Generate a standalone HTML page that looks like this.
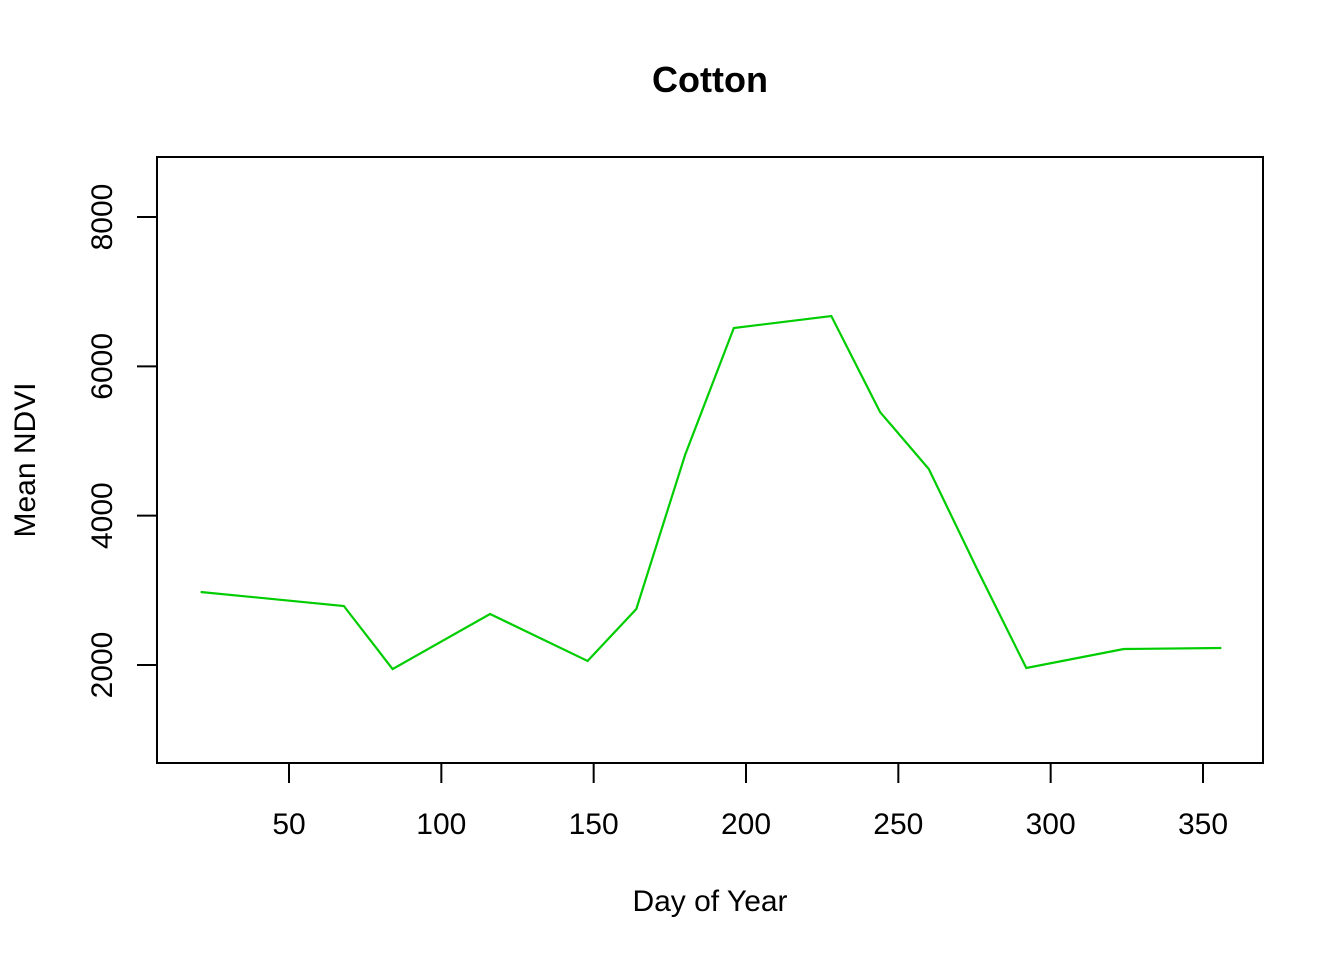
<!DOCTYPE html>
<html><head><meta charset="utf-8"><style>body{margin:0;background:#fff}svg{display:block}text{font-family:"Liberation Sans",Arial,sans-serif}</style></head>
<body>
<svg id="chart" width="1344" height="960" viewBox="0 0 1344 960">
<text x="710" y="92" text-anchor="middle" font-size="36" font-weight="bold">Cotton</text>
<rect x="157" y="157" width="1106" height="606" fill="none" stroke="#000" stroke-width="2"/>
<text x="710" y="911" text-anchor="middle" font-size="30">Day of Year</text>
<text transform="translate(35,460) rotate(-90)" text-anchor="middle" font-size="30">Mean NDVI</text>
<g id="xaxis"></g>
<g id="yaxis"></g>
<polyline id="line" fill="none" stroke="#00CD00" stroke-width="2.2"/>
</svg>
<script>
const days=[21,68,84,116,148,164,180,196,228,244,260,276,292,324,356];
const ndvi=[2978,2790,1946,2683,2054,2750,4812,6513,6674,5388,4625,3272,1960,2214,2228];
const xTicks=[50,100,150,200,250,300,350];
const yTicks=[2000,4000,6000,8000];
const NS="http://www.w3.org/2000/svg";
function sx(d){return 289+(d-50)*(1203-289)/300;}
function sy(v){return 665-(v-2000)*(665-217)/6000;}
const xa=document.getElementById('xaxis'),ya=document.getElementById('yaxis');
xTicks.forEach(t=>{
 const l=document.createElementNS(NS,'line');
 
 
 l.setAttribute('x1',sx(t));l.setAttribute('x2',sx(t));l.setAttribute('y1',763);l.setAttribute('y2',783);
 l.setAttribute('stroke','#000');l.setAttribute('stroke-width','2');xa.appendChild(l);
 const tx=document.createElementNS(NS,'text');
 
 
 tx.setAttribute('x',sx(t));tx.setAttribute('y',834);tx.setAttribute('text-anchor','middle');tx.setAttribute('font-size','30');
 tx.textContent=t;xa.appendChild(tx);
});
yTicks.forEach(t=>{
 const l=document.createElementNS(NS,'line');
 
 
 l.setAttribute('x1',137);l.setAttribute('x2',157);l.setAttribute('y1',sy(t));l.setAttribute('y2',sy(t));
 l.setAttribute('stroke','#000');l.setAttribute('stroke-width','2');ya.appendChild(l);
 const tx=document.createElementNS(NS,'text');
 
 
 tx.setAttribute('transform','translate(112,'+sy(t)+') rotate(-90)');tx.setAttribute('text-anchor','middle');tx.setAttribute('font-size','30');
 tx.textContent=t;ya.appendChild(tx);
});
document.getElementById('line').setAttribute('points',days.map((d,i)=>sx(d)+','+sy(ndvi[i])).join(' '));
</script>
</body></html>
